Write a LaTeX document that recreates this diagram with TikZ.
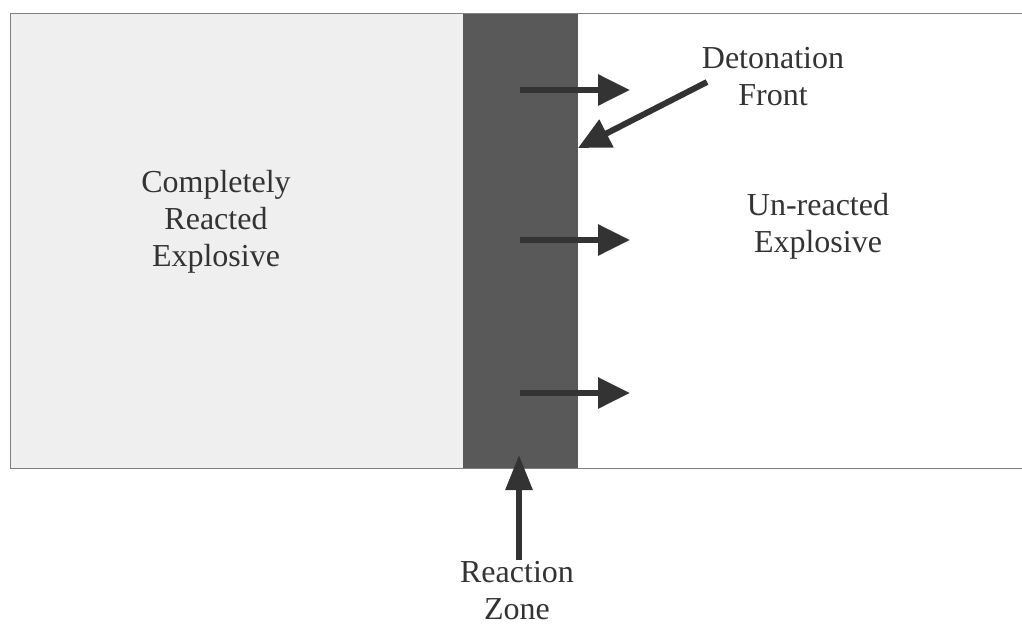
\documentclass[tikz,border=0pt]{standalone}
\usepackage{fontspec}
\setmainfont{Liberation Serif}
\usetikzlibrary{arrows.meta}

\definecolor{burnt}{HTML}{EFEFEF}
\definecolor{zone}{HTML}{595959}
\definecolor{ink}{HTML}{333333}

\tikzset{
  lbl/.style={align=center, text=ink, font=\fontsize{32}{37}\selectfont},
  fat/.style={line width=6pt, ink, -{Triangle[length=32pt, width=30pt]}}
}

\begin{document}
\begin{tikzpicture}[x=1pt, y=-1pt]
    \useasboundingbox (0,0) rectangle (1022,629);

    % First the reacted part and the reaction zone
    \fill[burnt] (10,13) rectangle (463,468);
    \fill[zone] (463,13) rectangle (578,468);
    \draw[gray, thin] (1022,13) -- (10,13) -- (10,468) -- (1022,468);

    % Define a few points
    \coordinate (A0) at (520,90);   \coordinate (A1) at (630,90);
    \coordinate (B0) at (520,240);  \coordinate (B1) at (630,240);
    \coordinate (C0) at (520,393);  \coordinate (C1) at (630,393);
    \coordinate (F0) at (707,82);   \coordinate (F1) at (578,148);
    \coordinate (Z0) at (519,560);  \coordinate (Z1) at (519,455);

    % The labels
    \node[lbl] (burned) at (216,222) {Completely\\Reacted\\Explosive};
    \node[lbl] (fresh) at (818,226) {Un-reacted\\Explosive};
    \node[lbl] (front) at (773,77) {Detonation\\Front};
    \node[lbl, inner sep=0pt] (rzone) at (517,591) {Reaction\\Zone};

    % Arrows
    \foreach \p in {A, B, C}
      \draw[fat] (\p0) -- (\p1);
    \draw[fat] (F0) -- (F1);
    \draw[fat, -{Triangle[length=35pt, width=26pt]}] (Z0) -- (Z1);
\end{tikzpicture}
\end{document}
